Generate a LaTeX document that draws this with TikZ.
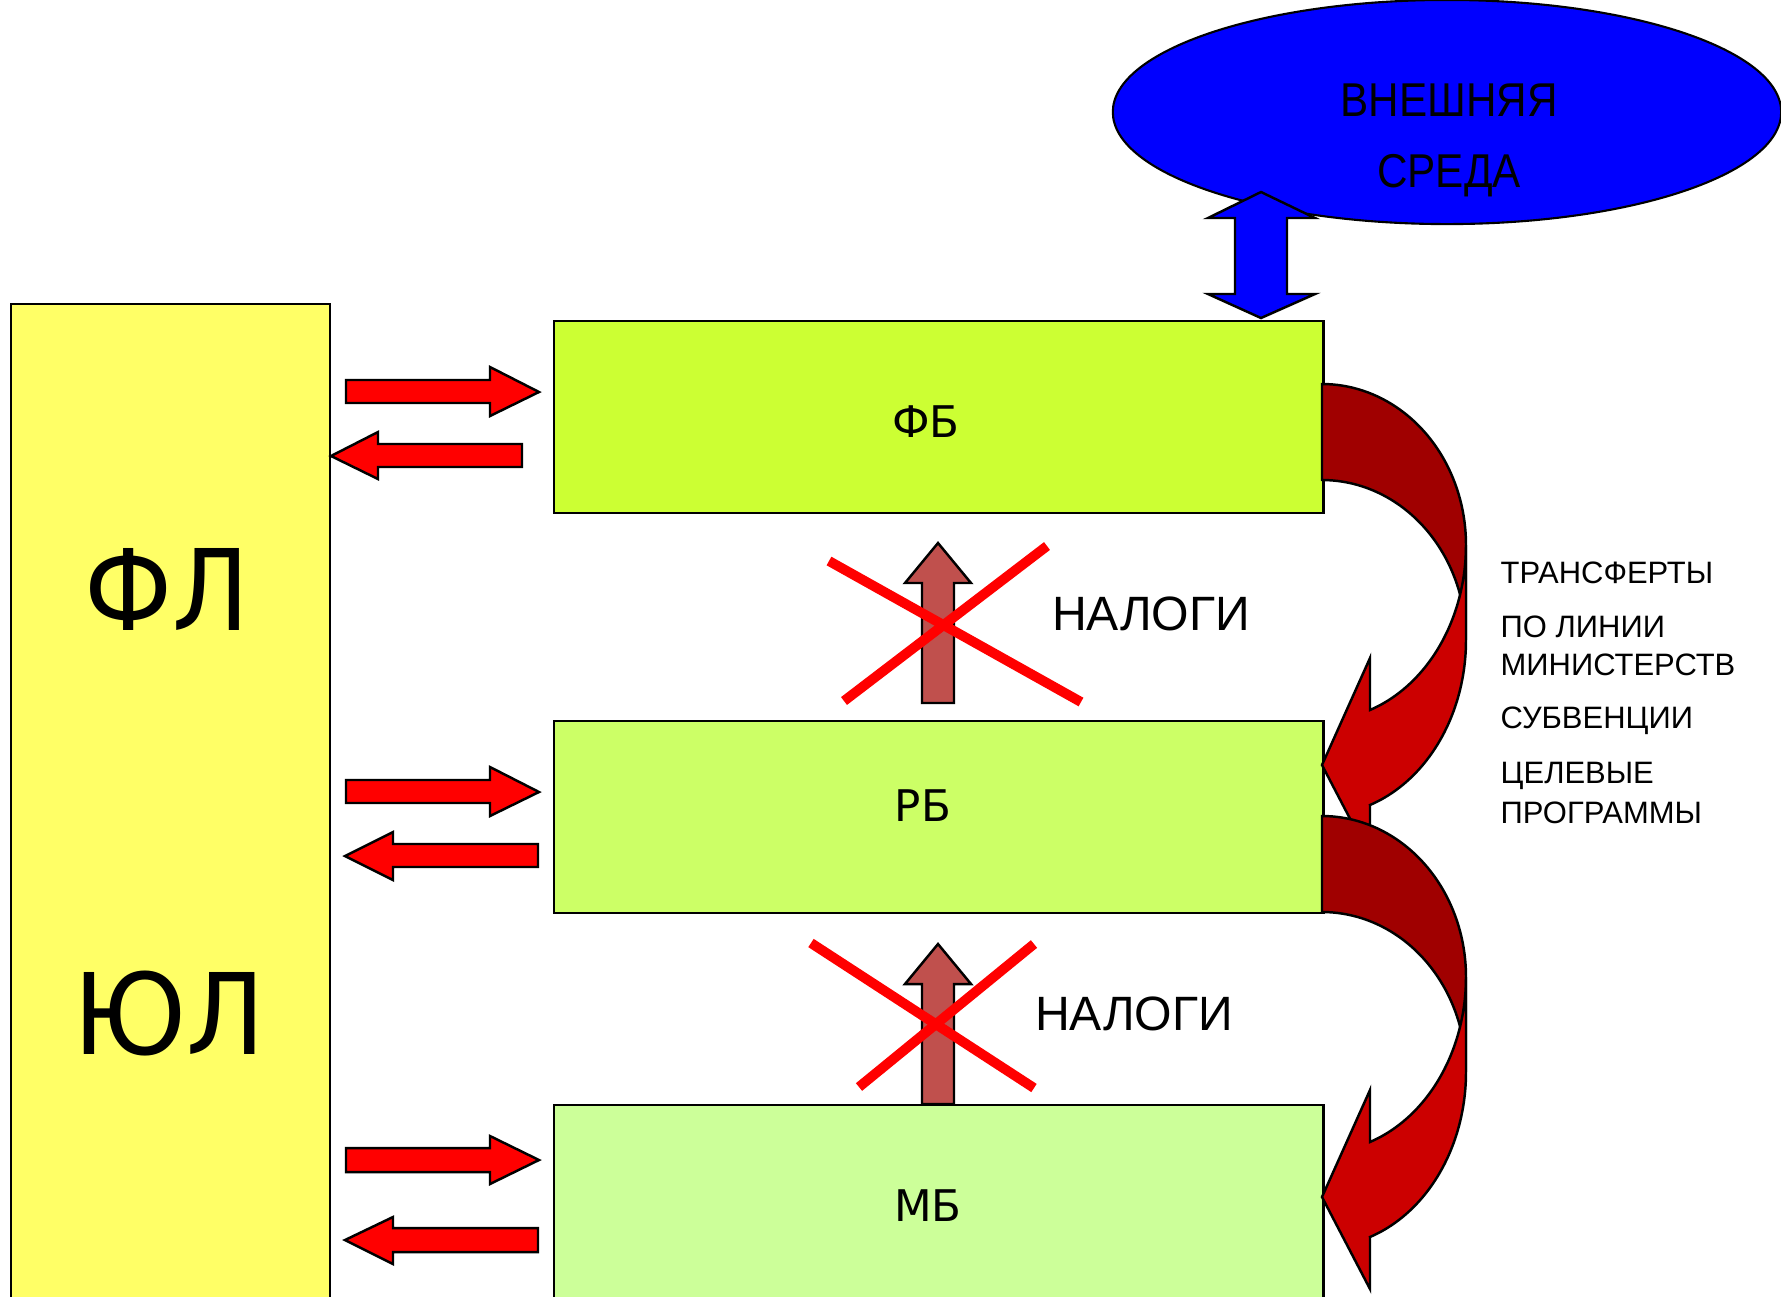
\documentclass[tikz,border=0pt]{standalone}
\usepackage{fontspec}
\usetikzlibrary{shapes.geometric}
\setmainfont{Liberation Sans}
\newfontfamily\dejavu{DejaVu Sans}
\definecolor{flcol}{RGB}{255,255,102}
\definecolor{fbcol}{RGB}{204,255,51}
\definecolor{rbcol}{RGB}{204,255,102}
\definecolor{mbcol}{RGB}{204,255,153}
\definecolor{taxcol}{RGB}{192,80,77}
\definecolor{cdark}{RGB}{160,0,0}
\definecolor{clight}{RGB}{204,0,0}
\definecolor{pureblue}{RGB}{0,0,255}
\definecolor{purered}{RGB}{255,0,0}
\begin{document}
\begin{tikzpicture}[x=0.01cm,y=-0.01cm,
  boxshape/.style={draw=black,line width=0.6pt,inner sep=0pt,anchor=north west},
  blockarrow/.style={draw=black,line width=0.7pt,line join=miter},
  hred/.style={blockarrow,fill=purered},
  taxarrow/.style={blockarrow,fill=taxcol},
  crossline/.style={draw=purered,line width=2.8pt},
  bigtxt/.style={inner sep=0pt,anchor=base,font=\dejavu\fontsize{32}{38}\selectfont},
  boxtxt/.style={inner sep=0pt,anchor=base,font=\dejavu\fontsize{12.4}{15}\selectfont},
  taxtxt/.style={inner sep=0pt,anchor=base,font=\fontsize{13.7}{16}\selectfont},
  sidetxt/.style={inner sep=0pt,anchor=base west,font=\fontsize{8.8}{10.8}\selectfont},
  envtxt/.style={inner sep=0pt,anchor=base,font=\fontsize{13.5}{16}\selectfont}
]
\useasboundingbox (0,0) rectangle (1781,1296);
\clip (0,0) rectangle (1781,1296);

% boxes
\node[boxshape,fill=flcol,minimum width=3.19cm,minimum height=10.2cm] (fl) at (10,303) {};
\node[boxshape,fill=fbcol,minimum width=7.69cm,minimum height=1.92cm] (fb) at (553,320) {};
\node[boxshape,fill=rbcol,minimum width=7.69cm,minimum height=1.92cm] (rb) at (553,720) {};
\node[boxshape,fill=mbcol,minimum width=7.69cm,minimum height=2.1cm] (mb) at (553,1104) {};

\node[bigtxt] (flt) at (167,630) {\scalebox{0.91}[1]{ФЛ}};
\node[bigtxt] (ult) at (169,1054) {\scalebox{0.93}[1]{ЮЛ}};
\node[boxtxt] (fbt) at (926,437) {ФБ};
\node[boxtxt] (rbt) at (923,821) {РБ};
\node[boxtxt] (mbt) at (928,1221) {МБ};

% external environment
\node[draw=black,line width=0.6pt,fill=pureblue,ellipse,inner sep=0pt,
      minimum width=6.68cm,minimum height=2.24cm] (env) at (1447,112) {};
\node[envtxt] (envt1) at (1449,116) {\scalebox{0.89}[1]{ВНЕШНЯЯ}};
\node[envtxt] (envt2) at (1449,187) {\scalebox{0.89}[1]{СРЕДА}};

% double arrow
\draw[blockarrow,fill=pureblue] (1261,192) -- (1315,218) -- (1287,218) -- (1287,294)
  -- (1315,294) -- (1261,318) -- (1208,294) -- (1235,294) -- (1235,218) -- (1208,218) -- cycle;

% horizontal red arrows
\draw[hred] (346,380) -- (490,380) -- (490,367) -- (539,392) -- (490,416) -- (490,403) -- (346,403) -- cycle;
\draw[hred] (522,444) -- (378,444) -- (378,432) -- (331,456) -- (378,479) -- (378,467) -- (522,467) -- cycle;
\draw[hred] (346,780) -- (490,780) -- (490,767) -- (539,792) -- (490,816) -- (490,803) -- (346,803) -- cycle;
\draw[hred] (538,844) -- (393,844) -- (393,832) -- (345,856) -- (393,880) -- (393,867) -- (538,867) -- cycle;
\draw[hred] (346,1148) -- (490,1148) -- (490,1136) -- (539,1160) -- (490,1184) -- (490,1172) -- (346,1172) -- cycle;
\draw[hred] (538,1228) -- (393,1228) -- (393,1217) -- (345,1240) -- (393,1264) -- (393,1252) -- (538,1252) -- cycle;

% tax arrows
\draw[taxarrow] (938,543) -- (971,583) -- (954,583) -- (954,703) -- (922,703) -- (922,583) -- (905,583) -- cycle;
\draw[taxarrow] (938,944) -- (971,984) -- (954,984) -- (954,1104) -- (922,1104) -- (922,984) -- (905,984) -- cycle;

% crosses
\draw[crossline] (829,561) -- (1081,702);
\draw[crossline] (844,701) -- (1047,546);
\draw[crossline] (811,943) -- (1034,1088);
\draw[crossline] (859,1087) -- (1034,944);

\node[taxtxt] (tax1) at (1151,630) {НАЛОГИ};
\node[taxtxt] (tax2) at (1134,1030) {НАЛОГИ};

% curved arrows
\foreach \dy in {0,432} {
\begin{scope}[shift={(0,\dy)}]
\filldraw[fill=cdark,draw=black,line width=0.7pt,line join=miter]
  (1322,384) -- plot[domain=-90:0,samples=45,variable=\t] ({1322+144*cos(\t)},{545+161*sin(\t)})
  -- (1466,640) -- plot[domain=0:-90,samples=45,variable=\t] ({1322+144*cos(\t)},{640+160*sin(\t)}) -- cycle;
\filldraw[fill=clight,draw=black,line width=0.7pt,line join=miter]
  (1466,545) -- plot[domain=0:70.53,samples=45,variable=\t] ({1322+144*cos(\t)},{545+175*sin(\t)})
  -- (1370,658) -- (1322,765) -- (1370,857) -- (1370,805)
  -- plot[domain=70.53:0,samples=45,variable=\t] ({1322+144*cos(\t)},{640+175*sin(\t)}) -- cycle;
\end{scope}
}

% side text
\node[sidetxt] (s1) at (1500,583) {ТРАНСФЕРТЫ};
\node[sidetxt] (s2) at (1500,637) {ПО ЛИНИИ};
\node[sidetxt] (s3) at (1500,675) {МИНИСТЕРСТВ};
\node[sidetxt] (s4) at (1500,728) {СУБВЕНЦИИ};
\node[sidetxt] (s5) at (1500,783) {ЦЕЛЕВЫЕ};
\node[sidetxt] (s6) at (1500,823) {ПРОГРАММЫ};
\end{tikzpicture}
\end{document}
